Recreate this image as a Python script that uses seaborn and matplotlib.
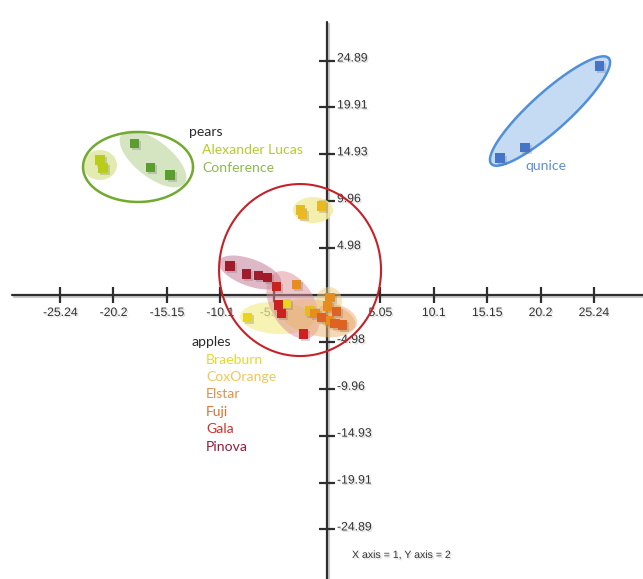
import numpy as np
import pandas as pd
import matplotlib
matplotlib.use('Agg')
import matplotlib.pyplot as plt
import matplotlib.patheffects as pe
import seaborn as sns

sns.set_style('white')
plt.rcParams['font.family'] = ['Liberation Sans', 'DejaVu Sans']

# score plot: component 1 vs component 2
pears_al_x = [-21.48, -21.19]
pears_al_y = [14.33, 13.48]
pears_conf_x = [-18.19, -16.68, -14.85]
pears_conf_y = [16.10, 13.51, 12.74]
quince_x = [25.76, 18.73, 16.37]
quince_y = [24.31, 15.68, 14.54]
braeburn_x = [-7.50, -3.81]
braeburn_y = [-2.41, -0.88]
coxorange_x = [-2.49, -2.30, -0.50, -1.61]
coxorange_y = [9.02, 8.60, 9.45, -1.70]
elstar_x = [-2.87, 0.28, 0.03, 0.22, -1.14]
elstar_y = [1.09, -0.24, -1.17, -2.73, -1.94]
fuji_x = [0.92, -0.50, 0.76, 1.45]
fuji_y = [-1.77, -2.41, -3.00, -3.18]
gala_x = [-4.76, -4.61, -4.29, -2.24]
gala_y = [0.88, -1.06, -1.94, -4.14]
pinova_x = [-9.18, -7.60, -6.50, -5.65]
pinova_y = [3.08, 2.23, 2.09, 1.88]

x_ticks = [-25.24, -20.2, -15.15, -10.1, -5.05, 5.05, 10.1, 15.15, 20.2, 25.24]
y_ticks = [24.89, 19.91, 14.93, 9.96, 4.98, -4.98, -9.96, -14.93, -19.91, -24.89]

groups = {
    'Alexander Lucas': (pears_al_x, pears_al_y),
    'Conference': (pears_conf_x, pears_conf_y),
    'qunice': (quince_x, quince_y),
    'Braeburn': (braeburn_x, braeburn_y),
    'CoxOrange': (coxorange_x, coxorange_y),
    'Elstar': (elstar_x, elstar_y),
    'Fuji': (fuji_x, fuji_y),
    'Gala': (gala_x, gala_y),
    'Pinova': (pinova_x, pinova_y),
}
rows = []
for name, (xs, ys) in groups.items():
    for a, b in zip(xs, ys):
        rows.append({'variety': name, 'pc1': a, 'pc2': b})
df = pd.DataFrame(rows)

point_colors = {
    'Alexander Lucas': '#b9cc1c', 'Conference': '#5a9f2c', 'qunice': '#4674c6',
    'Braeburn': '#e9d421', 'CoxOrange': '#e9b923', 'Elstar': '#e78d1f',
    'Fuji': '#de6222', 'Gala': '#cc2121', 'Pinova': '#a21b2a',
}

# pixel scale of the original picture
W, H = 643, 579
X0, Y0 = 327, 295
SX, SY = 10.57, 9.42

fig = plt.figure(figsize=(W / 100, H / 100), dpi=100)
ax = fig.add_axes([0, 0, 1, 1])
ax.set_xlim(-X0 / SX, (W - X0) / SX)
ax.set_ylim(-(H - Y0) / SY, Y0 / SY)
ax.axis('off')

shadow = [pe.SimpleLineShadow(offset=(1.5, -1.5), shadow_color='0.6', alpha=0.5), pe.Normal()]
txt_shadow = [pe.withSimplePatchShadow(offset=(1, -1), shadow_rgbFace='0.6', alpha=0.35)]

# axes cross
ax.plot([(12 - X0) / SX, (W - X0) / SX + 1], [0, 0], color='#2e2e2e', lw=1.6, zorder=1, path_effects=shadow)
ax.plot([0, 0], [-(H - Y0) / SY - 1, (Y0 - 22) / SY], color='#2e2e2e', lw=1.6, zorder=1, path_effects=shadow)
ax.plot(x_ticks, [0] * len(x_ticks), ls='none', marker='|', ms=11, mew=1.6, color='#2e2e2e', zorder=1)
ax.plot([0] * len(y_ticks), y_ticks, ls='none', marker='_', ms=11, mew=1.6, color='#2e2e2e', zorder=1)
for v in x_ticks:
    ax.text(v, -18 / SY, f'{v:g}', ha='center', va='center', fontsize=8.8, color='#333333',
            zorder=1, path_effects=txt_shadow)
for v in y_ticks:
    ax.text(10 / SX, v + 2 / SY, f'{v:g}', ha='left', va='center', fontsize=8.8, color='#333333',
            zorder=1, path_effects=txt_shadow)


def blob(cx, cy, w, h, ang=0, fill=None, edge=None, lw=1.6, alpha=1.0, z=2):
    t = np.linspace(0, 2 * np.pi, 240)
    a = np.radians(ang)
    dx = w / 2 * np.cos(t) * np.cos(a) - h / 2 * np.sin(t) * np.sin(a)
    dy = w / 2 * np.cos(t) * np.sin(a) + h / 2 * np.sin(t) * np.cos(a)
    xs, ys = cx + dx / SX, cy + dy / SY
    if fill is not None:
        ax.fill(xs, ys, color=fill, alpha=alpha, lw=0, zorder=z)
    if edge is not None:
        ax.plot(xs, ys, color=edge, lw=lw, zorder=z + 0.1)


# group ellipses (centre in data units, size in pixels)
blob(-17.88, 13.59, 110, 70, edge='#72a930', lw=1.8)
blob(-21.48, 13.80, 34, 30, fill='#e3ebb3')
blob(-16.46, 14.44, 80, 36, -38, fill='#d5e5c2')
blob(21.10, 19.53, 158, 38, 42, fill='#c5dbf3', edge='#4f8fdb', lw=1.8)
blob(-1.32, 9.02, 40, 26, fill='#f3eda0', alpha=0.85)
blob(-7.28, 2.39, 66, 27, -20, fill='#c98aa0', alpha=0.6)
blob(-4.73, -2.44, 74, 32, -3, fill='#f3ef95', alpha=0.7)
blob(-3.22, -1.06, 74, 44, -60, fill='#dc8c98', alpha=0.5)
blob(-0.85, -2.44, 76, 36, -12, fill='#ebb470', alpha=0.5)
blob(0.19, -0.64, 26, 28, fill='#eccb7d', alpha=0.5)
blob(0.95, -2.44, 42, 26, -20, fill='#e99a5c', alpha=0.4)
blob(-2.55, 2.65, 162, 172, edge='#c42128', lw=1.5, z=4)

sns.scatterplot(data=df, x='pc1', y='pc2', hue='variety', palette=point_colors,
                marker='s', s=44, linewidth=0, legend=False, ax=ax, zorder=3)
ax.collections[-1].set_path_effects([
    pe.SimplePatchShadow(offset=(1.5, -1.5), shadow_rgbFace='0.4', alpha=0.25), pe.Normal()])
ax.set_xlim(-X0 / SX, (W - X0) / SX)
ax.set_ylim(-(H - Y0) / SY, Y0 / SY)
ax.axis('off')


def label(px, py, s, color, size=10.1):
    ax.text((px - X0) / SX, (Y0 - py) / SY, s, color=color, fontsize=size, family=['Lato', 'DejaVu Sans'],
            ha='left', va='center', zorder=5)


label(189, 132, 'pears', '#2a2a2a')
label(202, 150, 'Alexander Lucas', '#b7ca2c')
label(202, 167.5, 'Conference', '#8cba4e')
label(525, 166, 'qunice', '#5b8fd8')
label(192, 342.5, 'apples', '#2a2a2a')
apple_names = ['Braeburn', 'CoxOrange', 'Elstar', 'Fuji', 'Gala', 'Pinova']
apple_label_colors = ['#e2da2a', '#efc65a', '#e39243', '#df722e', '#d1312a', '#8c2037']
for i, (n, c) in enumerate(zip(apple_names, apple_label_colors)):
    label(206, 359.5 + 17.45 * i, n, c)

ax.text((352 - X0) / SX, (Y0 - 555) / SY, 'X axis = 1, Y axis = 2', fontsize=7.6, color='#333333',
        ha='left', va='center', path_effects=txt_shadow)

fig.savefig('out.png', dpi=100)
